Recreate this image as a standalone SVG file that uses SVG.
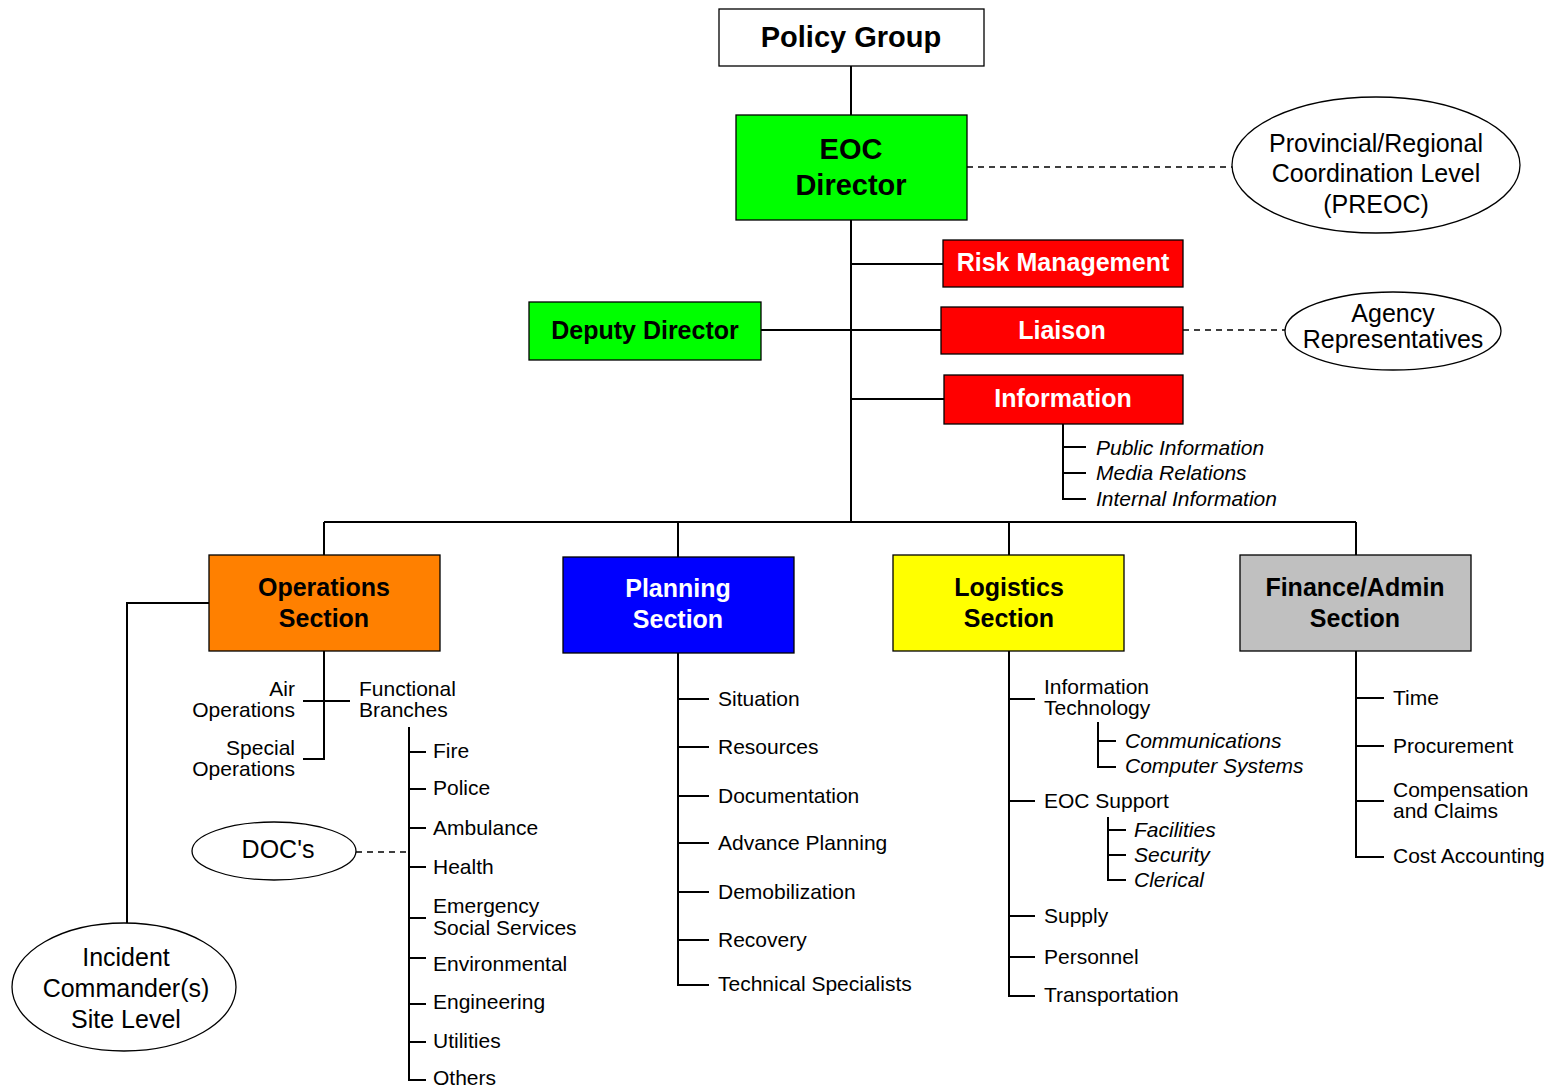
<svg xmlns="http://www.w3.org/2000/svg" width="1561" height="1087" viewBox="0 0 1561 1087">
<style>
.box{stroke:#000;stroke-width:1.3}
.t{font-family:"Liberation Sans",Arial,sans-serif;font-size:21px;fill:#000}
.i{font-style:italic}
.b{font-family:"Liberation Sans",Arial,sans-serif;font-weight:bold;font-size:25px;text-anchor:middle}
.bt{font-size:29px}
.e{font-family:"Liberation Sans",Arial,sans-serif;font-size:25px;text-anchor:middle;fill:#000}
.ln{stroke:#000;stroke-width:2;fill:none}
.dl{stroke:#000;stroke-width:1.5;fill:none;stroke-dasharray:6,5}
.w{fill:#fff}
.k{fill:#000}
</style>
<rect width="1561" height="1087" fill="#fff"/>
<g id="connectors">
<path class="ln" d="M851,66V522M851,264H943M761,330H941M851,399H944"/>
<path class="ln" d="M1063,424V499H1086M1063,447H1086M1063,473H1086"/>
<path class="ln" d="M324,522H1356M324,522V555M678,522V557M1009,522V555M1356,522V555"/>
<path class="ln" d="M209,603H127V923"/>
<path class="ln" d="M324,651V759H303M303,701H350"/>
<path class="ln" d="M409,727V1080H426M409,752H426M409,789H426M409,828H426M409,867H426M409,918H426M409,958H426M409,1004H426M409,1042H426"/>
<path class="ln" d="M678,653V985H709M678,699H709M678,747H709M678,796H709M678,843H709M678,892H709M678,940H709"/>
<path class="ln" d="M1009,651V996H1035M1009,699H1035M1009,801H1035M1009,916H1035M1009,957H1035"/>
<path class="ln" d="M1098,722V767H1116M1098,741H1116"/>
<path class="ln" d="M1108,817V880H1126M1108,830H1126M1108,855H1126"/>
<path class="ln" d="M1356,651V857H1384M1356,698H1384M1356,746H1384M1356,801H1384"/>
<path class="dl" d="M967,167H1232M1183,330H1285M356,852H409"/>
</g>
<g id="policy-group"><rect class="box" x="719" y="9" width="265" height="57" fill="#fff"/><text class="b bt k" x="851" y="47">Policy Group</text></g>
<g id="eoc-director"><rect class="box" x="736" y="115" width="231" height="105" fill="#00ff00"/><text class="b bt k" x="851" y="159">EOC</text><text class="b bt k" x="851" y="195">Director</text></g>
<g id="preoc"><ellipse class="box" cx="1376" cy="165" rx="144" ry="68" fill="#fff"/><text class="e" x="1376" y="152">Provincial/Regional</text><text class="e" x="1376" y="182">Coordination Level</text><text class="e" x="1376" y="213">(PREOC)</text></g>
<g id="risk-management"><rect class="box" x="943" y="240" width="240" height="47" fill="#ff0000"/><text class="b w" x="1063" y="271">Risk Management</text></g>
<g id="deputy-director"><rect class="box" x="529" y="302" width="232" height="58" fill="#00ff00"/><text class="b k" x="645" y="339">Deputy Director</text></g>
<g id="liaison"><rect class="box" x="941" y="307" width="242" height="47" fill="#ff0000"/><text class="b w" x="1062" y="339">Liaison</text></g>
<g id="agency-reps"><ellipse class="box" cx="1393" cy="331" rx="108" ry="39" fill="#fff"/><text class="e" x="1393" y="322">Agency</text><text class="e" x="1393" y="348">Representatives</text></g>
<g id="information"><rect class="box" x="944" y="375" width="239" height="49" fill="#ff0000"/><text class="b w" x="1063" y="407">Information</text>
<text class="t i" x="1096" y="455">Public Information</text><text class="t i" x="1096" y="480">Media Relations</text><text class="t i" x="1096" y="506">Internal Information</text></g>
<g id="operations"><rect class="box" x="209" y="555" width="231" height="96" fill="#ff8000"/><text class="b k" x="324" y="596">Operations</text><text class="b k" x="324" y="627">Section</text>
<text class="t" text-anchor="end" x="295" y="696">Air</text><text class="t" text-anchor="end" x="295" y="717">Operations</text>
<text class="t" text-anchor="end" x="295" y="755">Special</text><text class="t" text-anchor="end" x="295" y="776">Operations</text>
<text class="t" x="359" y="696">Functional</text><text class="t" x="359" y="717">Branches</text>
<text class="t" x="433" y="758">Fire</text><text class="t" x="433" y="795">Police</text><text class="t" x="433" y="835">Ambulance</text><text class="t" x="433" y="874">Health</text><text class="t" x="433" y="913">Emergency</text><text class="t" x="433" y="935">Social Services</text><text class="t" x="433" y="971">Environmental</text><text class="t" x="433" y="1009">Engineering</text><text class="t" x="433" y="1048">Utilities</text><text class="t" x="433" y="1085">Others</text></g>
<g id="docs"><ellipse class="box" cx="274" cy="851" rx="82" ry="29" fill="#fff"/><text class="e" x="278" y="858">DOC's</text></g>
<g id="incident-commander"><ellipse class="box" cx="124" cy="987" rx="112" ry="64" fill="#fff"/><text class="e" x="126" y="966">Incident</text><text class="e" x="126" y="997">Commander(s)</text><text class="e" x="126" y="1028">Site Level</text></g>
<g id="planning"><rect class="box" x="563" y="557" width="231" height="96" fill="#0000ff"/><text class="b w" x="678" y="597">Planning</text><text class="b w" x="678" y="628">Section</text>
<text class="t" x="718" y="706">Situation</text><text class="t" x="718" y="754">Resources</text><text class="t" x="718" y="803">Documentation</text><text class="t" x="718" y="850">Advance Planning</text><text class="t" x="718" y="899">Demobilization</text><text class="t" x="718" y="947">Recovery</text><text class="t" x="718" y="991">Technical Specialists</text></g>
<g id="logistics"><rect class="box" x="893" y="555" width="231" height="96" fill="#ffff00"/><text class="b k" x="1009" y="596">Logistics</text><text class="b k" x="1009" y="627">Section</text>
<text class="t" x="1044" y="694">Information</text><text class="t" x="1044" y="715">Technology</text>
<text class="t i" x="1125" y="748">Communications</text><text class="t i" x="1125" y="773">Computer Systems</text>
<text class="t" x="1044" y="808">EOC Support</text>
<text class="t i" x="1134" y="837">Facilities</text><text class="t i" x="1134" y="862">Security</text><text class="t i" x="1134" y="887">Clerical</text>
<text class="t" x="1044" y="923">Supply</text><text class="t" x="1044" y="964">Personnel</text><text class="t" x="1044" y="1002">Transportation</text></g>
<g id="finance"><rect class="box" x="1240" y="555" width="231" height="96" fill="#c0c0c0"/><text class="b k" x="1355" y="596">Finance/Admin</text><text class="b k" x="1355" y="627">Section</text>
<text class="t" x="1393" y="705">Time</text><text class="t" x="1393" y="753">Procurement</text><text class="t" x="1393" y="797">Compensation</text><text class="t" x="1393" y="818">and Claims</text><text class="t" x="1393" y="863">Cost Accounting</text></g>
</svg>
